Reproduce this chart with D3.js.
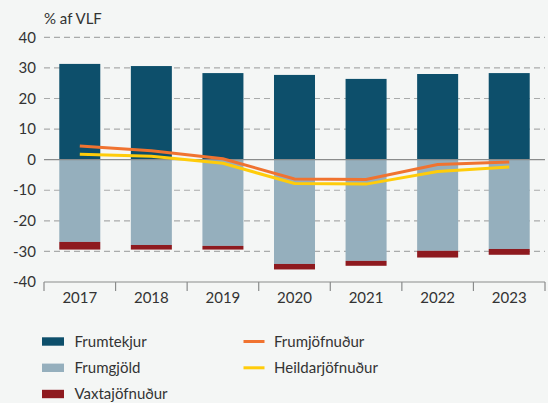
<!DOCTYPE html>
<html>
<head>
<meta charset="utf-8">
<script src="https://cdn.jsdelivr.net/npm/d3@7"></script>
<style>
  html, body { margin: 0; padding: 0; background: #F4F6F5; }
  svg { display: block; font-family: Lato, "Open Sans", sans-serif; }
</style>
</head>
<body>
<svg id="chart" width="548" height="403"></svg>
<script>
const years = ["2017", "2018", "2019", "2020", "2021", "2022", "2023"];
const frumtekjur = [31.3, 30.6, 28.3, 27.7, 26.4, 28.0, 28.3];
const frumgjold = [-26.9, -27.9, -28.2, -34.1, -33.1, -29.8, -29.2];
const vaxtajofnudur = [-2.5, -1.5, -1.2, -1.8, -1.6, -2.2, -1.9];
const frumjofnudur = [4.5, 2.9, 0.3, -6.3, -6.5, -1.6, -0.8];
const heildarjofnudur = [1.8, 1.1, -1.2, -7.8, -8.0, -3.9, -2.4];
const yTicks = [40, 30, 20, 10, 0, -10, -20, -30, -40];
const unitLabel = "% af VLF";

(function () {
const colors = {
  frumtekjur: "#0D4F6B",
  frumgjold: "#95AFBD",
  vaxta: "#8E1A1F",
  frumj: "#F07330",
  heild: "#FFCC0A"
};

const svg = d3.select("#chart");
const pLeft = 44, pRight = 545, pTop = 37.3, pBottom = 282;

const x = d3.scaleBand().domain(years).range([pLeft, pRight]).paddingInner(0).paddingOuter(0);
const y = d3.scaleLinear().domain([-40, 40]).range([pBottom, pTop]);
const barW = x.bandwidth() * 0.573;
const cx = d => x(d) + x.bandwidth() / 2;

// gridlines
svg.append("g").selectAll("line")
  .data(yTicks.filter(t => t !== 0 && t !== -40))
  .join("line")
  .attr("x1", pLeft).attr("x2", pRight)
  .attr("y1", d => y(d)).attr("y2", d => y(d))
  .attr("stroke", "#A9ABAB").attr("stroke-width", 1.2)
  .attr("stroke-dasharray", "6,4");

// y tick labels
svg.append("g").selectAll("text")
  .data(yTicks)
  .join("text")
  .attr("x", 36).attr("y", d => y(d))
  .attr("dy", "0.35em")
  .attr("text-anchor", "end")
  .attr("font-size", 15)
  .attr("fill", "#333")
  .text(d => d);

svg.append("text")
  .attr("x", 44).attr("y", 24)
  .attr("font-size", 15).attr("fill", "#333")
  .text(unitLabel);

// bars
const bars = svg.append("g");
bars.append("g").selectAll("rect").data(years).join("rect")
  .attr("x", d => cx(d) - barW / 2).attr("width", barW)
  .attr("y", (d, i) => y(frumtekjur[i]))
  .attr("height", (d, i) => y(0) - y(frumtekjur[i]))
  .attr("fill", colors.frumtekjur);
bars.append("g").selectAll("rect").data(years).join("rect")
  .attr("x", d => cx(d) - barW / 2).attr("width", barW)
  .attr("y", y(0))
  .attr("height", (d, i) => y(frumgjold[i]) - y(0))
  .attr("fill", colors.frumgjold);
bars.append("g").selectAll("rect").data(years).join("rect")
  .attr("x", d => cx(d) - barW / 2).attr("width", barW)
  .attr("y", (d, i) => y(frumgjold[i]))
  .attr("height", (d, i) => y(frumgjold[i] + vaxtajofnudur[i]) - y(frumgjold[i]))
  .attr("fill", colors.vaxta);

// zero line
svg.append("line")
  .attr("x1", pLeft).attr("x2", pRight)
  .attr("y1", y(0)).attr("y2", y(0))
  .attr("stroke", "#8A8C8C").attr("stroke-width", 1.2);

// bottom axis
const xAxis = svg.append("g");
xAxis.append("line")
  .attr("x1", pLeft).attr("x2", pRight)
  .attr("y1", pBottom).attr("y2", pBottom)
  .attr("stroke", "#8A8C8C").attr("stroke-width", 1.2);
const boundaries = years.map(d => x(d)).concat([pRight]);
xAxis.append("g").selectAll("line").data(boundaries).join("line")
  .attr("x1", d => d).attr("x2", d => d)
  .attr("y1", pBottom).attr("y2", pBottom + 9)
  .attr("stroke", "#8A8C8C").attr("stroke-width", 1.2);
xAxis.append("g").selectAll("text").data(years).join("text")
  .attr("x", d => cx(d)).attr("y", 303)
  .attr("text-anchor", "middle")
  .attr("font-size", 15).attr("fill", "#333")
  .text(d => d);

// lines
const lineGen = d3.line().x((d, i) => cx(years[i])).y(d => y(d));
svg.append("path").datum(heildarjofnudur)
  .attr("d", lineGen).attr("fill", "none")
  .attr("stroke", colors.heild).attr("stroke-width", 3);
svg.append("path").datum(frumjofnudur)
  .attr("d", lineGen).attr("fill", "none")
  .attr("stroke", colors.frumj).attr("stroke-width", 3);

// legend
const legend = svg.append("g");
const legItems = [
  { label: "Frumtekjur", type: "rect", color: colors.frumtekjur, col: 0, row: 0 },
  { label: "Frumgjöld", type: "rect", color: colors.frumgjold, col: 0, row: 1 },
  { label: "Vaxtajöfnuður", type: "rect", color: colors.vaxta, col: 0, row: 2 },
  { label: "Frumjöfnuður", type: "line", color: colors.frumj, col: 1, row: 0 },
  { label: "Heildarjöfnuður", type: "line", color: colors.heild, col: 1, row: 1 }
];
const colX = [42, 243.5];
const rowY = [341.5, 367.8, 394];
legItems.forEach(it => {
  const gx = colX[it.col], gy = rowY[it.row];
  if (it.type === "rect") {
    legend.append("rect").attr("x", gx).attr("y", gy - 4.2).attr("width", 22).attr("height", 8.4).attr("fill", it.color);
  } else {
    legend.append("line").attr("x1", gx).attr("x2", gx + 21).attr("y1", gy).attr("y2", gy)
      .attr("stroke", it.color).attr("stroke-width", 3);
  }
  legend.append("text").attr("x", gx + (it.type === "rect" ? 32.5 : 30.5)).attr("y", gy)
    .attr("dy", "0.35em").attr("font-size", 15).attr("fill", "#333").text(it.label);
});
})();
</script>
</body>
</html>
